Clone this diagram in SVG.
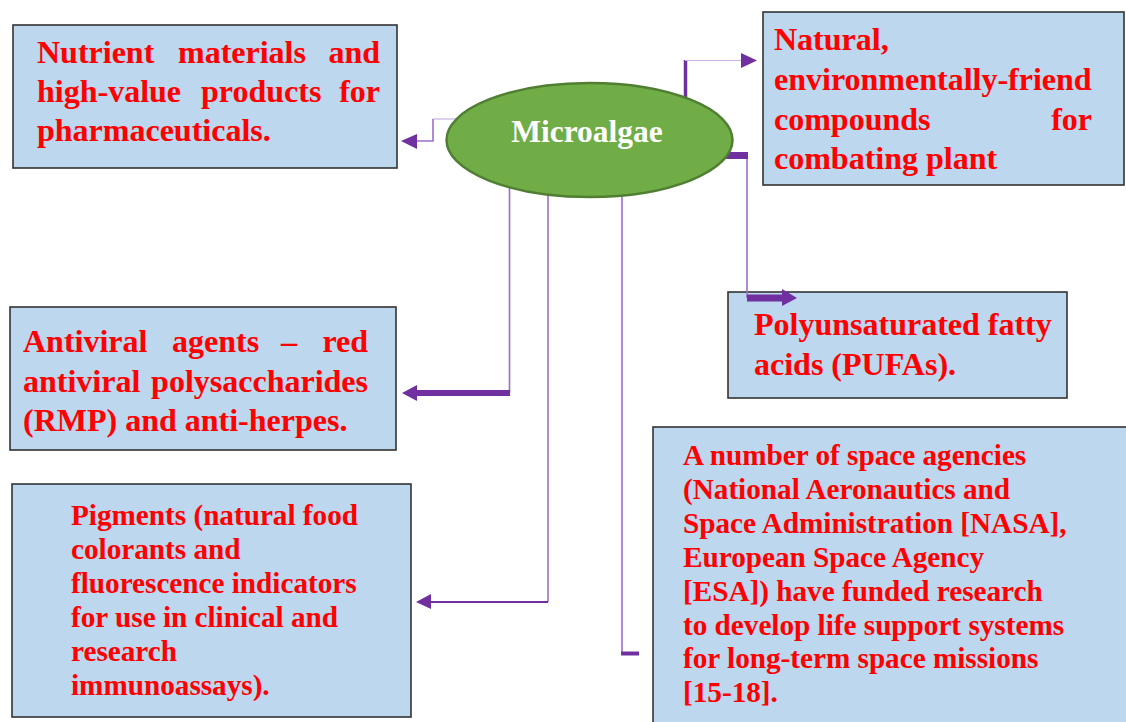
<svg xmlns="http://www.w3.org/2000/svg" width="1126" height="722" viewBox="0 0 1126 722">
<style>
.box{fill:#BDD7EE;stroke:#333;stroke-width:1.6}
.t{font-family:"Liberation Serif","Times New Roman",serif;font-weight:bold;fill:#FF0000}
.big{font-size:32px}
.sm{font-size:29.2px}
.thin{fill:none;stroke:#9C6FC9;stroke-width:1.6}
.light{fill:none;stroke:#C8B2E2;stroke-width:1.2}
.thick{fill:none;stroke:#7030A0}
.head{fill:#7030A0}
</style>
<rect width="1126" height="722" fill="#fff"/>
<g id="nutrient">
  <rect class="box" x="13" y="25" width="384" height="143"/>
  <text class="t big" y="63"><tspan x="37">Nutrient</tspan><tspan x="178">materials</tspan><tspan x="380" text-anchor="end">and</tspan></text>
  <text class="t big" y="102"><tspan x="37">high-value</tspan><tspan x="201">products</tspan><tspan x="380" text-anchor="end">for</tspan></text>
  <text class="t big" x="37" y="141">pharmaceuticals.</text>
</g>
<g id="natural">
  <rect class="box" x="763" y="12" width="361" height="173"/>
  <text class="t big" x="774" y="50">Natural,</text>
  <text class="t big" x="774" y="90">environmentally-friend</text>
  <text class="t big" y="130"><tspan x="774">compounds</tspan><tspan x="1092" text-anchor="end">for</tspan></text>
  <text class="t big" x="774" y="169">combating plant</text>
</g>
<g id="antiviral">
  <rect class="box" x="10" y="307" width="386" height="143"/>
  <text class="t big" y="352"><tspan x="23">Antiviral</tspan><tspan x="172">agents</tspan><tspan x="281">–</tspan><tspan x="368" text-anchor="end">red</tspan></text>
  <text class="t big" y="392"><tspan x="23">antiviral</tspan><tspan x="368" text-anchor="end">polysaccharides</tspan></text>
  <text class="t big" x="23" y="431">(RMP) and anti-herpes.</text>
</g>
<g id="pufa">
  <rect class="box" x="728" y="292" width="339" height="106"/>
  <text class="t big" x="754" y="335">Polyunsaturated fatty</text>
  <text class="t big" x="754" y="375">acids (PUFAs).</text>
</g>
<g id="pigments">
  <rect class="box" x="12" y="484" width="399" height="233"/>
  <text class="t sm" x="71" y="525">Pigments (natural food</text>
  <text class="t sm" x="71" y="559">colorants and</text>
  <text class="t sm" x="71" y="593">fluorescence indicators</text>
  <text class="t sm" x="71" y="627">for use in clinical and</text>
  <text class="t sm" x="71" y="661">research</text>
  <text class="t sm" x="71" y="695">immunoassays).</text>
</g>
<g id="space">
  <rect class="box" x="653" y="427" width="500" height="320"/>
  <text class="t sm" x="683" y="465">A number of space agencies</text>
  <text class="t sm" x="683" y="499">(National Aeronautics and</text>
  <text class="t sm" x="683" y="533">Space Administration [NASA],</text>
  <text class="t sm" x="683" y="567">European Space Agency</text>
  <text class="t sm" x="683" y="601">[ESA]) have funded research</text>
  <text class="t sm" x="683" y="635">to develop life support systems</text>
  <text class="t sm" x="683" y="668">for long-term space missions</text>
  <text class="t sm" x="683" y="702">[15-18].</text>
</g>
<g id="connectors">
  <!-- to Nutrient box -->
  <path class="light" d="M457 119 H433"/>
  <path class="thin" d="M433 119 V141 H416"/>
  <polygon class="head" points="417,134 401,141 417,149"/>
  <!-- to Natural box -->
  <path class="thick" d="M685.5 98 V60" stroke-width="3.5"/>
  <path class="light" d="M685 60.5 H742"/>
  <polygon class="head" points="741,53 757,60.5 741,68"/>
  <!-- to PUFA box -->
  <path class="thick" d="M726 155.5 H748" stroke-width="7"/>
  <path class="thin" d="M747 159 V298"/>
  <path class="thick" d="M747 298 H783" stroke-width="7"/>
  <polygon class="head" points="782,289 797,298 782,306"/>
  <!-- to Antiviral box -->
  <path class="thin" d="M509.5 188 V393"/>
  <path class="thick" d="M510 393 H415" stroke-width="6"/>
  <polygon class="head" points="417,385 402,393 417,401"/>
  <!-- to Pigments box -->
  <path class="thin" d="M548 195 V602"/>
  <path class="thick" d="M548 602 H430" stroke-width="2"/>
  <polygon class="head" points="431,594 416,602 431,609"/>
  <!-- to NASA box -->
  <path class="thin" d="M622 196 V653"/>
  <path class="thick" d="M621 653.5 H639" stroke-width="4"/>
</g>
<g id="microalgae">
  <ellipse cx="589.5" cy="140" rx="143" ry="57" fill="#70AD47" stroke="#507E32" stroke-width="2.5"/>
  <text class="t" x="587" y="142" font-size="31.5" style="fill:#fff" text-anchor="middle">Microalgae</text>
</g>
</svg>
